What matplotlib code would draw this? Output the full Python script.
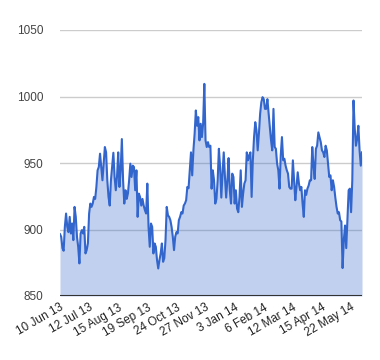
import matplotlib
matplotlib.use("Agg")
import matplotlib.pyplot as plt
import numpy as np

plt.rcParams['font.family'] = ['Liberation Sans', 'DejaVu Sans']

# daily closing values, 10 Jun 13 -> early Jun 14
values_part1 = [
    896.5, 894.5, 886, 884, 902, 912, 902, 898, 909.5, 897,
    904.5, 892, 917, 909.5, 894.5, 887, 874.5, 897, 899.5, 897,
    902, 882, 884.5, 889.5, 912, 919.5, 917, 919.5, 924.5, 923,
    932, 944.5, 947, 957, 947, 937, 949.5, 962, 958, 937,
    924.5, 918, 937, 947, 957.7, 939.5, 929.5, 939.5, 958, 932,
    944.5, 968, 937, 919.5, 929.5, 923, 927, 937, 949.5, 939.5,
    948, 947, 929.5, 944.5, 909.5, 927, 924.5, 918, 923, 918,
    914.5, 912, 934.5, 902, 887, 904.5, 902, 882, 889.5, 887,
    877, 870.7, 877, 882, 889.5, 875.7, 878.5, 892, 917, 910.7,
    909.5, 907, 902, 894.5, 884.5, 894.5, 898, 897, 907, 909.5,
    913, 912, 918, 919.5, 922, 932, 931, 944.5, 958, 940.7,
    959.5, 972, 989.5, 978, 984.5, 967, 979.5, 969.5, 979.5, 1009.5,
    967, 962, 965.7, 962,
]
values_part2 = [
    963, 930.7, 944.5, 937, 919.5, 923, 937, 960.7, 947, 924,
    942, 958, 939.5, 924, 937, 953.7, 929.5, 919.5, 942, 939.5,
    919.5, 929.5, 915.7, 913, 924.5, 944.5, 917, 927, 934.5, 937,
    958, 952, 955.7, 958, 924.5, 952, 969.5, 980.7, 974.5, 959.5,
    972, 987, 995.7, 999.5, 998, 990.7, 990.7, 998, 987, 977,
    967, 959.5, 990.7, 962, 960.7, 949.5, 944.5, 930.7, 955.7, 969.5,
    952, 953.2, 948, 944.5, 942, 932, 930.7, 930.7, 952, 937,
    922, 932, 943, 934.5, 929.5, 932, 919.5, 909.5, 929.5, 926,
    930.7, 933, 937, 937, 962, 948, 938, 960.7, 963, 973,
    969.5, 965.7, 959.5, 958, 954.5, 963, 959.5, 949.5, 939.5, 940.7,
    929.5, 937, 932, 924, 917, 912, 913, 907, 906, 871,
    892, 903, 886, 907, 929.5, 930.7, 913, 937, 997, 976,
    963, 968, 978, 959.5, 948, 958,
]
values = values_part1 + values_part2

tick_labels = ['10 Jun 13', '12 Jul 13', '15 Aug 13', '19 Sep 13', '24 Oct 13',
               '27 Nov 13', '3 Jan 14', '6 Feb 14', '12 Mar 14', '15 Apr 14',
               '22 May 14']
tick_step = 24

x = np.arange(len(values))

fig = plt.figure(figsize=(3.8, 3.6), dpi=100)
ax = fig.add_axes([60 / 380, 1 - 296 / 360, 302 / 380, 266 / 360])

ax.fill_between(x, values, 850, color='#3366cc', alpha=0.3, linewidth=0)
ax.plot(x, values, color='#3366cc', linewidth=1.5)

ax.set_xlim(0, len(values) - 1)
ax.set_ylim(850, 1050)
ax.set_yticks([850, 900, 950, 1000, 1050])
ax.set_xticks(np.arange(len(tick_labels)) * tick_step)
ax.set_xticklabels(tick_labels, rotation=30, ha='right', rotation_mode='anchor')

ax.grid(axis='y', color='#cccccc', linewidth=1)
ax.set_axisbelow(True)
ax.axhline(850, color='#333333', linewidth=1.5, zorder=5)
for s in ax.spines.values():
    s.set_visible(False)
ax.tick_params(length=0)
ax.tick_params(axis='y', labelsize=8.5, labelcolor='#444444', pad=12)
ax.tick_params(axis='x', labelsize=8.5, labelcolor='#222222', pad=4)

fig.savefig('out.png', dpi=100)
